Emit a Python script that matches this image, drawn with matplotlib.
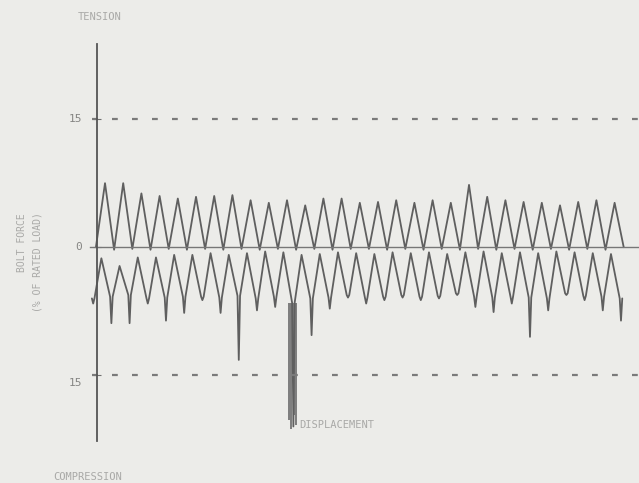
import numpy as np
import matplotlib
matplotlib.use("Agg")
import matplotlib.pyplot as plt

# bolt force record, % of rated load, one entry per load cycle
upper_peaks = [7.5, 7.5, 6.3, 6.0, 5.7, 5.9, 6.0, 6.1, 5.5, 5.2,
               5.5, 4.9, 5.7, 5.7, 5.2, 5.3, 5.5, 5.2, 5.5, 5.2,
               7.3, 5.9, 5.5, 5.3, 5.2, 4.9, 5.3, 5.5, 5.2]
upper_troughs = [0.0, -0.3, -0.2, -0.3, -0.2, -0.3, -0.2, -0.3, -0.2, -0.3,
                 -0.2, -0.3, -0.2, -0.3, -0.2, -0.2, -0.3, -0.2, -0.3, -0.2,
                 -0.3, -0.2, -0.3, -0.2, -0.3, -0.2, -0.3, -0.2, -0.3, 0.0]
lower_peaks = [-1.3, -2.2, -1.2, -1.2, -0.9, -0.9, -0.7, -0.9, -0.7, -0.5,
               -0.6, -0.9, -0.8, -0.6, -0.7, -0.8, -0.6, -0.7, -0.6, -0.8,
               -0.6, -0.5, -0.7, -0.6, -0.7, -0.5, -0.6, -0.7, -0.8]
lower_shoulders = [-6.0, -5.8, -5.6, -6.0, -5.9, -5.8, -5.8, -5.9, -5.7, -6.0,
                   -5.8, -6.5, -6.0, -5.9, -5.6, -5.9, -5.8, -5.6, -5.8, -5.7,
                   -5.4, -5.8, -5.9, -5.8, -5.9, -6.0, -5.4, -5.7, -5.8, -6.0]
lower_tips = [-6.6, -8.9, -8.9, -6.6, -8.6, -7.7, -6.2, -7.7, -13.2, -7.4,
              -7.0, -21.0, -10.3, -7.2, -5.9, -6.6, -6.2, -5.9, -6.2, -6.0,
              -5.6, -7.0, -7.6, -6.6, -10.5, -7.4, -5.6, -6.2, -7.4, -8.6]
# extra needles of the displacement event (cycle 11)
disp_cycle = 11
disp_tips = [-20.2, -21.3, -19.6, -20.8]

limit = 15
ytick_vals = [15, 0, -15]
ytick_text = ["15", "0", "15"]

ink = "#5f5f5f"
faint = "#a9a9a7"
bg = "#ecece9"
mono = "DejaVu Sans Mono"

fig = plt.figure(figsize=(6.39, 4.83), dpi=100, facecolor=bg)
ax = fig.add_axes([97 / 639, 42 / 483, 542 / 639, 397 / 483])
ax.set_facecolor(bg)
ax.set_xlim(0.11, 29.89)
ax.set_ylim(-22.7, 23.8)

# upper trace: troughs on the zero line, peaks in tension
n_up = len(upper_peaks)
tu = []
yu = []
for j in range(n_up):
    tu += [j + 0.05, j + 0.55]
    yu += [upper_troughs[j], upper_peaks[j]]
tu.append(n_up + 0.05)
yu.append(upper_troughs[n_up])
ax.plot(tu, yu, color=ink, lw=1.3, clip_on=False,
        solid_joinstyle="round", solid_capstyle="round")

# lower trace: V troughs with a short needle at the bottom of each cycle
tl = []
yl = []
for i in range(len(lower_tips)):
    c = i - 0.1
    tl += [c - 0.07, c, c + 0.07]
    yl += [lower_shoulders[i], lower_tips[i], lower_shoulders[i]]
    if i < len(lower_peaks):
        tl.append(i + 0.35)
        yl.append(lower_peaks[i])
ax.plot(tl, yl, color=ink, lw=1.3, clip_on=False,
        solid_joinstyle="round", solid_capstyle="round")

offs = np.linspace(-0.2, 0.2, len(disp_tips))
ax.vlines(disp_cycle - 0.15 + offs, lower_shoulders[disp_cycle], disp_tips,
          color=ink, lw=1.1)

# reference lines
ax.axhline(0, xmin=-0.013, xmax=1, color="#777777", lw=1.0, clip_on=False)
for lv in (limit, -limit):
    ax.axhline(lv, xmin=-0.01, xmax=1, color="#7a7a7a", lw=1.6,
               linestyle=(0, (2.6, 6.4)), clip_on=False)

for s in ("top", "right", "bottom"):
    ax.spines[s].set_visible(False)
ax.spines["left"].set_color("#555555")
ax.spines["left"].set_linewidth(1.3)
ax.set_xticks([])
ax.set_yticks(ytick_vals)
ax.tick_params(axis="y", direction="inout", length=6, color="#707070",
               labelleft=False)
for v, s in zip(ytick_vals, ytick_text):
    dy = -0.9 if v < 0 else 0
    ax.text(-0.028, v + dy, s, transform=ax.get_yaxis_transform(),
            ha="right", va="center", fontsize=8, color="#858583",
            family=mono)

fig.text(100 / 639, 1 - 17 / 483, "TENSION", ha="center", va="center",
         fontsize=7.5, color=faint, family=mono)
fig.text(88 / 639, 1 - 477 / 483, "COMPRESSION", ha="center", va="center",
         fontsize=7.5, color=faint, family=mono)
fig.text(22 / 639, 1 - 243 / 483, "BOLT FORCE", rotation=90, ha="center",
         va="center", fontsize=7, color=faint, family=mono)
fig.text(37 / 639, 1 - 262 / 483, "(% OF RATED LOAD)", rotation=90,
         ha="center", va="center", fontsize=7, color=faint, family=mono)
ax.text(disp_cycle + 0.2, -20.8, "DISPLACEMENT", ha="left", va="center",
        fontsize=7.5, color=faint, family=mono)

fig.savefig("out.png", dpi=100, facecolor=bg)
